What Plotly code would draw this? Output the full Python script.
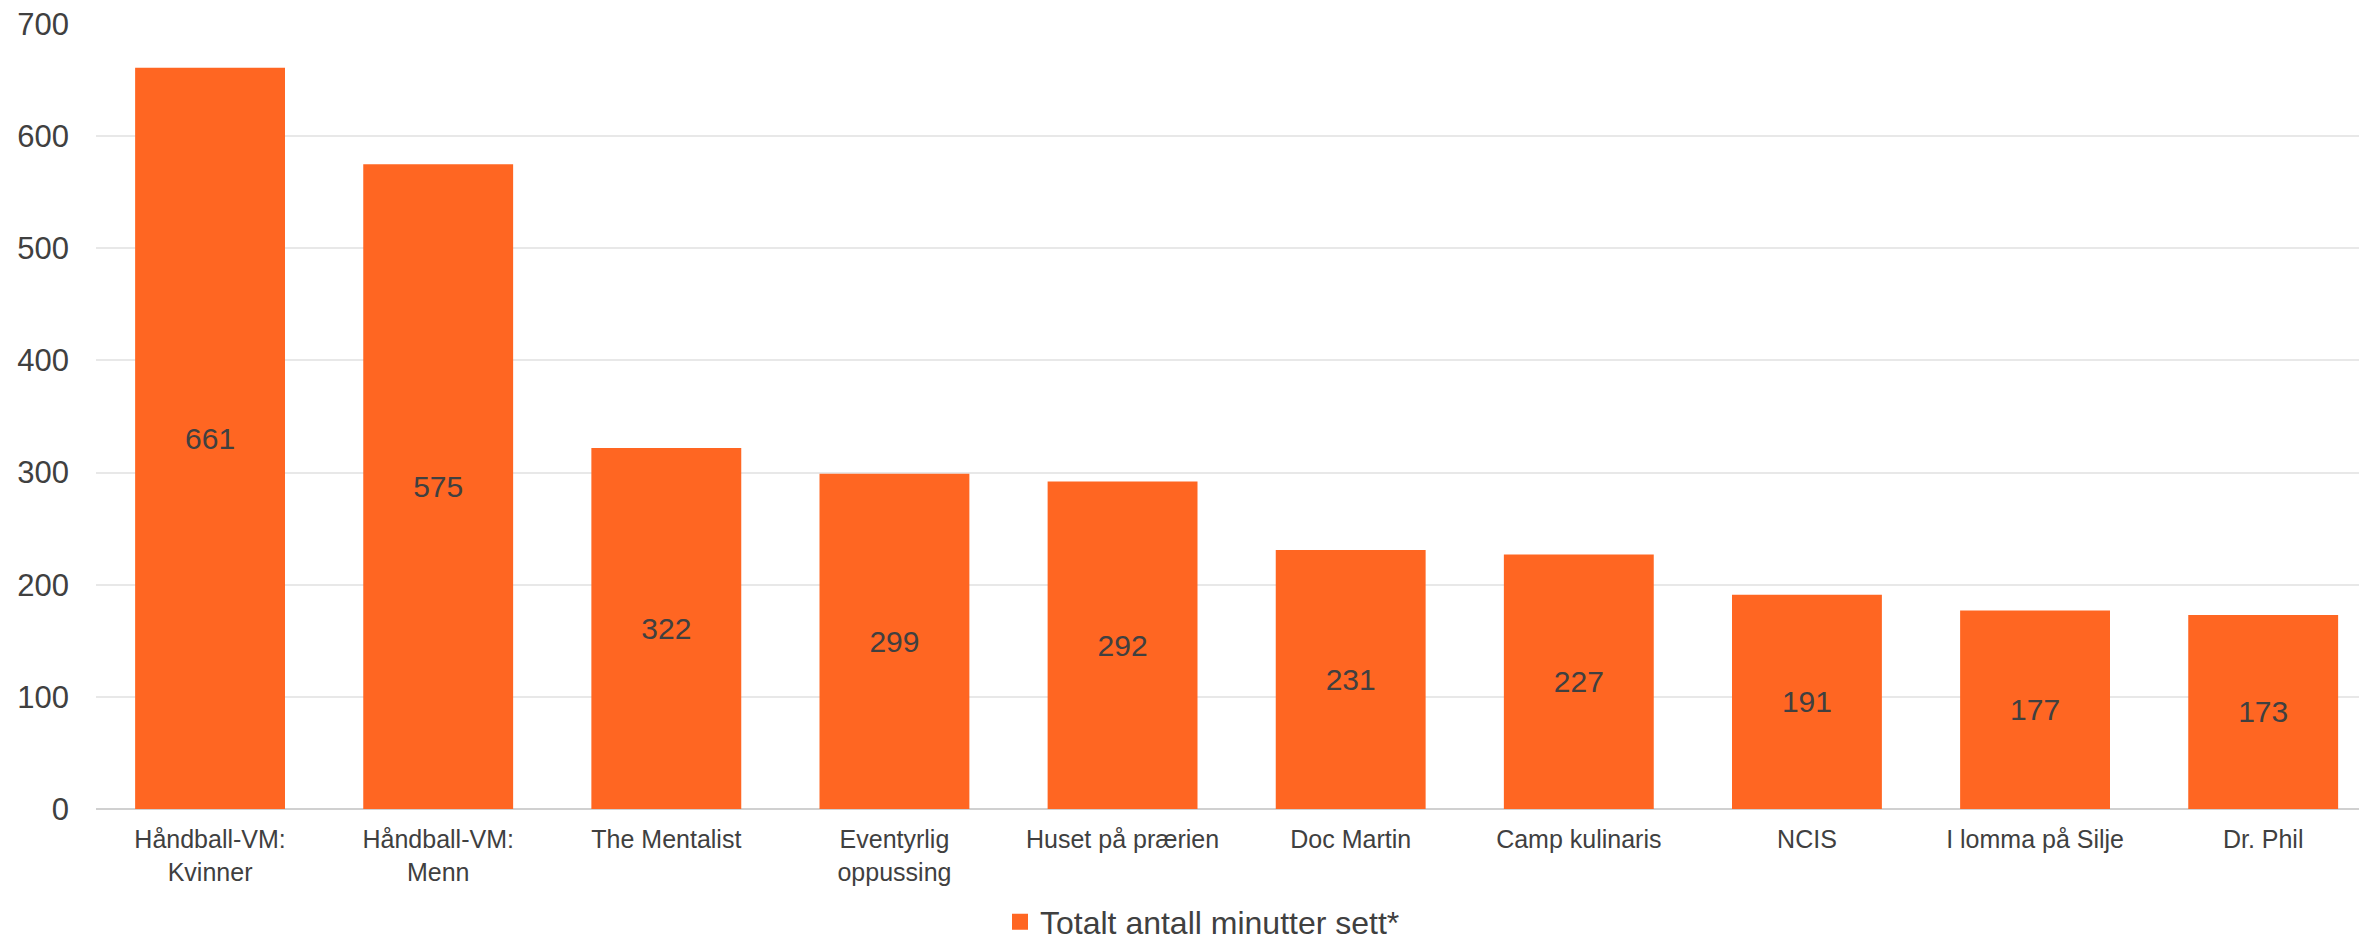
import plotly.graph_objects as go

categories = ["Håndball-VM:<br>Kvinner", "Håndball-VM:<br>Menn", "The Mentalist",
              "Eventyrlig<br>oppussing", "Huset på prærien", "Doc Martin",
              "Camp kulinaris", "NCIS", "I lomma på Silje", "Dr. Phil"]
values = [661, 575, 322, 299, 292, 231, 227, 191, 177, 173]
series_name = "Totalt antall minutter sett*"
y_ticks = [0, 100, 200, 300, 400, 500, 600, 700]

BAR = "#FF6622"
TXT = "#404040"
FONT = "Liberation Sans, Arial, sans-serif"

xs = list(range(len(categories)))

fig = go.Figure()
fig.add_trace(go.Bar(
    x=xs,
    y=values,
    name=series_name,
    marker=dict(color=BAR, line=dict(width=0)),
    width=0.657,
    text=[str(v) for v in values],
    textposition="inside",
    insidetextanchor="middle",
    textangle=0,
    textfont=dict(size=30, color=TXT, family=FONT),
    showlegend=False,
    hoverinfo="x+y",
))
# legend entry with a larger square swatch
fig.add_trace(go.Scatter(
    x=[None], y=[None],
    mode="markers",
    name=series_name,
    marker=dict(symbol="square", size=16, color=BAR, line=dict(width=0)),
    showlegend=True,
))

fig.update_layout(
    width=2359, height=941,
    margin=dict(l=96, r=0, t=24, b=132, autoexpand=False),
    paper_bgcolor="white", plot_bgcolor="white",
    font=dict(family=FONT, color=TXT),
    uniformtext=dict(mode=False),
    xaxis=dict(
        tickmode="array",
        tickvals=xs,
        ticktext=categories,
        range=[-0.5, 9.42],
        tickfont=dict(size=25, color=TXT, family=FONT),
        showgrid=False, zeroline=False, showline=False,
        ticks="", tickangle=0,
        ticklabelstandoff=13,
        automargin=False,
    ),
    yaxis=dict(
        range=[0, 700],
        tickvals=y_ticks,
        tickfont=dict(size=31, color=TXT, family=FONT),
        showgrid=True, gridcolor="#E8E8E8", gridwidth=1.5,
        zeroline=True, zerolinecolor="#D0D0D0", zerolinewidth=2,
        ticks="", ticklabelstandoff=26,
        showline=False,
        automargin=False,
    ),
    legend=dict(
        orientation="h",
        xref="container", yref="paper",
        x=1000 / 2359, xanchor="left",
        y=-0.144, yanchor="middle",
        font=dict(size=32, color=TXT, family=FONT),
        itemwidth=30,
        itemsizing="trace",
        tracegroupgap=0,
    ),
)

fig.write_html("out.html",
               config={"displayModeBar": False},
               post_script="document.body.style.margin='0';document.body.style.overflow='hidden';")
